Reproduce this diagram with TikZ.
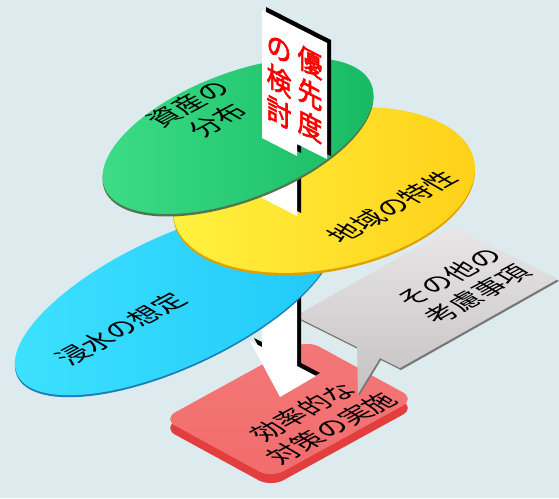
\documentclass[tikz,border=0pt]{standalone}
\usepackage{fontspec}
\newfontfamily\jp{Noto Sans CJK JP}
\newfontfamily\jpbold{Noto Sans CJK JP}[FakeBold=2.5]
\definecolor{bg}{RGB}{221,235,239}
\definecolor{grnL}{RGB}{62,222,136}
\definecolor{grnD}{RGB}{22,184,98}
\definecolor{grnRim}{RGB}{80,118,78}
\definecolor{yelL}{RGB}{255,242,64}
\definecolor{yelD}{RGB}{255,208,24}
\definecolor{yelRim}{RGB}{226,160,0}
\definecolor{bluL}{RGB}{62,226,255}
\definecolor{bluD}{RGB}{32,200,248}
\definecolor{bluRim}{RGB}{24,128,186}
\definecolor{redTop}{RGB}{242,108,108}
\definecolor{redSide}{RGB}{226,62,62}
\definecolor{gryL}{RGB}{232,230,230}
\definecolor{gryD}{RGB}{196,194,194}
\definecolor{gryRim}{RGB}{120,118,118}
\definecolor{signRed}{RGB}{255,0,0}
\newcommand\postshape{(262,150) -- (262,347) -- (250,341) -- (280,397) -- (316,376) -- (297,366) -- (297,150) -- cycle}
\newcommand\stubshape{(262,170) -- (297,170) -- (297,216) -- (262,198) -- cycle}
\newcommand\boardshape{(262,10) -- (327,43) -- (327,159) -- (297,144) -- (297,156) -- (262,138) -- cycle}
\newcommand\calloutshape{(295,316) -- (453,227) -- (558,279) -- (400,368) -- (380,358) -- (358,394) -- (357,347) -- cycle}
\begin{document}
\begin{tikzpicture}[x=1pt,y=-1pt,
  every node/.style={inner sep=0pt,align=center,font=\jp\fontsize{27}{33}\selectfont},
  onground/.style={cm={0.879,0.477,-0.866,0.5,(0,0)}},
  onsign/.style={cm={0.888,-0.459,0,1,(0,0)},text=signRed,font=\jpbold\fontsize{28}{32}\selectfont}]
\fill[bg] (0,0) rectangle (559,498);
\useasboundingbox (0,0) rectangle (559,498);
% base slab
\fill[redSide,rounded corners=14] (163,428) -- (307,349) -- (415,408) -- (271,487) -- cycle;
\shade[top color=redTop!92!white,bottom color=redTop,rounded corners=14] (163,419) -- (307,340) -- (415,399) -- (271,478) -- cycle;
\node[onground] (action) at (317,420) {効率的な\\対策の実施};
% callout
\fill[gryRim,shift={(1,2)}] \calloutshape;
\shade[top color=gryL,bottom color=gryD] \calloutshape;
\node[onground] (other) at (463,286) {その他の\\考慮事項};
% post and arrow
\fill[black,shift={(4,-3)}] \postshape;
\fill[white] \postshape;
% discs
\fill[bluRim,rotate around={25:(175,303)}] (175,303) ellipse [x radius=174,y radius=65];
\shade[left color=bluL,right color=bluD,rotate around={25:(175,301)}] (175,301) ellipse [x radius=174,y radius=65];
\node[onground] (flood) at (121,329) {浸水の想定};
\fill[yelRim,rotate around={11:(324,192.5)}] (324,192.5) ellipse [x radius=153,y radius=79];
\shade[left color=yelL,right color=yelD,rotate around={11:(324,190)}] (324,190) ellipse [x radius=153,y radius=79];
\node[onground] (area) at (392,207) {地域の特性};
\fill[black,shift={(4,-3)}] \stubshape;
\fill[white] \stubshape;
\fill[grnRim,rotate around={21:(238,138.5)}] (238,138.5) ellipse [x radius=143,y radius=63];
\shade[left color=grnL,right color=grnD,rotate around={21:(238,136)}] (238,136) ellipse [x radius=143,y radius=63];
\node[onground] (assets) at (203,112) {資産の\\分布};
% sign board
\fill[black,shift={(4,-3)}] \boardshape;
\fill[white] \boardshape;
\node[onsign] (prio) at (310,94) {優\\先\\度};
\node[onsign] (study) at (279,82) {の\\検\\討};
\end{tikzpicture}
\end{document}
